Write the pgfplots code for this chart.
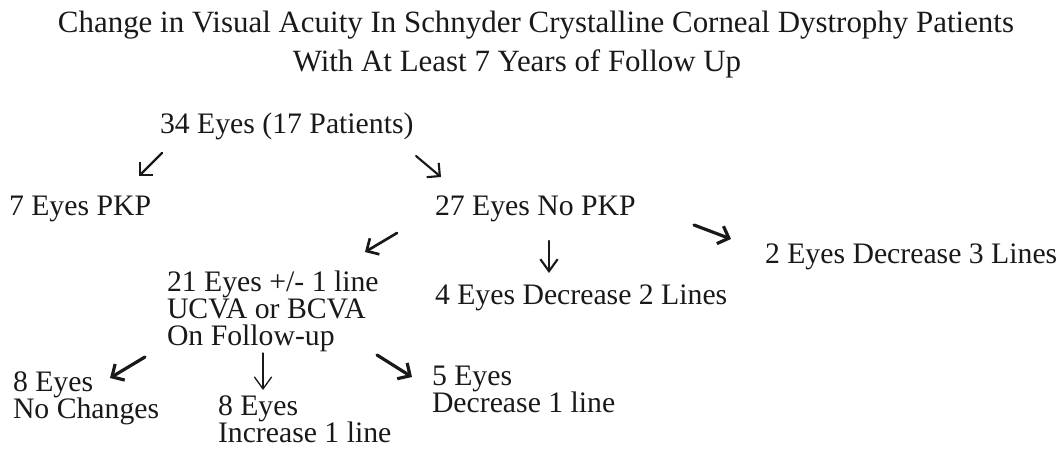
\documentclass[border=0pt]{standalone}
\usepackage{fontspec}
\setmainfont{Liberation Serif}
\usepackage{pgfplots}
\pgfplotsset{compat=1.18}
\usetikzlibrary{arrows.meta}
\newcommand{\bigf}{\fontsize{22.3}{20.2}\selectfont\lineskiplimit=-100pt\relax}
\newcommand{\titf}{\fontsize{23.2}{29}\selectfont}
\tikzset{lbl/.style={font=\bigf, inner sep=0pt, outer sep=0pt, text=black!90, align=left},
         tit/.style={font=\titf, inner sep=0pt, outer sep=0pt, text=black!90}}
\begin{document}
\begin{tikzpicture}
\begin{axis}[
  hide axis, scale only axis,
  width=796.5pt, height=336.75pt,
  xmin=0, xmax=1062, ymin=0, ymax=449, y dir=reverse,
  clip=false,
]
\addplot[draw=none] coordinates {(0,0) (1062,449)};
% arrows
\pgfplotsset{arr/.style={black!90, line cap=round, line join=round, -{Straight Barb[length=7pt,width=14pt]}},
             darr/.style={black!90, line cap=round, line join=round, -{Straight Barb[length=9pt,width=13pt]}}}
\addplot[arr, line width=1.6pt] coordinates {(162,153) (139,176)};
\addplot[arr, line width=1.6pt] coordinates {(416,156) (441,177)};
\addplot[arr, line width=2.0pt] coordinates {(397,233) (365,252)};
\addplot[darr, line width=1.6pt] coordinates {(549,241) (549,273)};
\addplot[arr, line width=2.4pt] coordinates {(694,225) (731,239)};
\addplot[arr, line width=2.4pt] coordinates {(145,357) (110,378)};
\addplot[darr, line width=1.0pt] coordinates {(263,353) (263,390)};
\addplot[arr, line width=2.4pt] coordinates {(377,355) (412,377)};
% texts
\node[tit, anchor=base] at (axis cs:536,33) {Change in Visual Acuity In Schnyder Crystalline Corneal Dystrophy Patients};
\node[tit, anchor=base] at (axis cs:517,72) {With At Least 7 Years of Follow Up};
\node[lbl, anchor=base west] at (axis cs:160,133) {34 Eyes (17 Patients)};
\node[lbl, anchor=base west] at (axis cs:9,215) {7 Eyes PKP};
\node[lbl, anchor=base west] at (axis cs:435,215) {27 Eyes No PKP};
\node[lbl, anchor=base west] at (axis cs:765,263) {2 Eyes Decrease 3 Lines};
\node[lbl, anchor=base west] at (axis cs:435,304) {4 Eyes Decrease 2 Lines};
\node[lbl, anchor=base west] at (axis cs:167,345) {21 Eyes +/- 1 line\\UCVA or BCVA\\On Follow-up};
\node[lbl, anchor=base west] at (axis cs:13,418) {8 Eyes\\No Changes};
\node[lbl, anchor=base west] at (axis cs:218,442) {8 Eyes\\Increase 1 line};
\node[lbl, anchor=base west] at (axis cs:432,412) {5 Eyes\\Decrease 1 line};
\end{axis}
\pgfresetboundingbox
\useasboundingbox (current axis.south west) rectangle (current axis.north east);
\end{tikzpicture}
\end{document}
